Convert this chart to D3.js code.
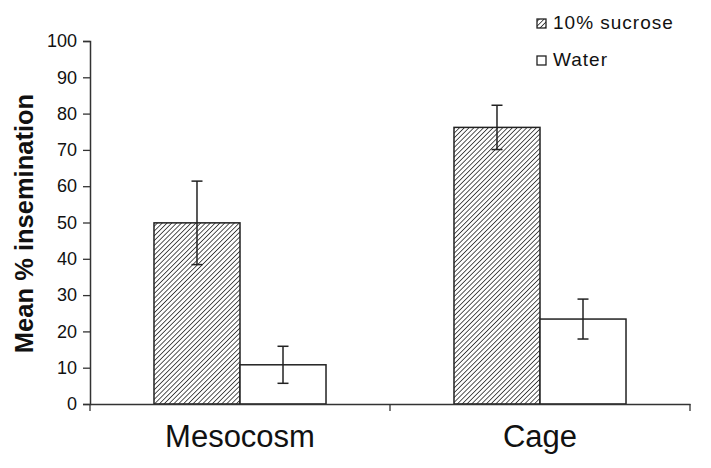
<!DOCTYPE html>
<html><head><meta charset="utf-8">
<script src="https://cdn.jsdelivr.net/npm/d3@7"></script>
<style>
body{margin:0;background:#fff;}
text{font-family:Arial,"Liberation Sans",sans-serif;fill:#111;}
</style></head>
<body>
<svg id="chart" width="711" height="468"></svg>
<script>
const categories = ["Mesocosm", "Cage"];
const seriesNames = ["10% sucrose", "Water"];
const sucroseMean = [49.9, 76.2];
const sucroseErr = [11.5, 6.1];
const waterMean = [10.8, 23.4];
const waterErr = [5.1, 5.5];
const yTicks = [0,10,20,30,40,50,60,70,80,90,100];

const svg = d3.select("#chart");
const defs = svg.append("defs");
const pat = defs.append("pattern").attr("id","hatch").attr("patternUnits","userSpaceOnUse")
  .attr("width",3.4).attr("height",3.4).attr("patternTransform","rotate(45)");
pat.append("rect").attr("width",3.4).attr("height",3.4).attr("fill","#fff");
pat.append("line").attr("x1",0).attr("y1",0).attr("x2",0).attr("y2",3.4)
  .attr("stroke","#2a2a2a").attr("stroke-width",1.6);

const x0 = 90, x1 = 690, yTop = 41, yBot = 404;
const x = d3.scaleBand().domain(categories).range([x0,x1]).paddingInner(0).paddingOuter(0);
const xs = d3.scaleBand().domain(seriesNames).range([0,x.bandwidth()]).paddingInner(0).paddingOuter(0.744);
const y = d3.scaleLinear().domain([0,100]).range([yBot,yTop]);

const data = [];
categories.forEach((c,i)=>{
  data.push({cat:c, s:seriesNames[0], v:sucroseMean[i], e:sucroseErr[i]});
  data.push({cat:c, s:seriesNames[1], v:waterMean[i], e:waterErr[i]});
});

// bars
svg.append("g").selectAll("rect").data(data).join("rect")
  .attr("x", d=>x(d.cat)+xs(d.s))
  .attr("y", d=>y(d.v))
  .attr("width", xs.bandwidth())
  .attr("height", d=>y(0)-y(d.v))
  .attr("fill", d=>d.s===seriesNames[0]?"url(#hatch)":"#fff")
  .attr("stroke","#222").attr("stroke-width",1.5);

// error bars
const eg = svg.append("g").attr("stroke","#222").attr("stroke-width",1.5);
data.forEach(d=>{
  const cx = x(d.cat)+xs(d.s)+xs.bandwidth()/2;
  eg.append("line").attr("x1",cx).attr("x2",cx).attr("y1",y(d.v+d.e)).attr("y2",y(d.v-d.e));
  eg.append("line").attr("x1",cx-5.5).attr("x2",cx+5.5).attr("y1",y(d.v+d.e)).attr("y2",y(d.v+d.e));
  eg.append("line").attr("x1",cx-5.5).attr("x2",cx+5.5).attr("y1",y(d.v-d.e)).attr("y2",y(d.v-d.e));
});

// y axis
const ya = svg.append("g").attr("transform",`translate(${x0},0)`)
  .call(d3.axisLeft(y).tickValues(yTicks).tickSize(7).tickPadding(6));
ya.select(".domain").attr("stroke","#333").attr("stroke-width",1.5);
ya.selectAll(".tick line").attr("stroke","#333").attr("stroke-width",1.3);
ya.selectAll(".tick text").attr("font-size",18).attr("fill","#111")
  .attr("font-family","Arial,'Liberation Sans',sans-serif");

// x axis
const xa = svg.append("g").attr("transform",`translate(0,${yBot})`)
  .call(d3.axisBottom(x).tickSize(0).tickPadding(21));
xa.select(".domain").attr("stroke","#333").attr("stroke-width",1.5);
xa.selectAll(".tick text").attr("font-size",31).attr("fill","#111")
  .attr("font-family","Arial,'Liberation Sans',sans-serif");
// boundary ticks
const bounds = [x0, x0 + x.step(), x1];
svg.append("g").selectAll("line").data(bounds).join("line")
  .attr("x1",d=>d).attr("x2",d=>d).attr("y1",yBot).attr("y2",yBot+7)
  .attr("stroke","#333").attr("stroke-width",1.3);

// y title
svg.append("text").attr("transform",`translate(33,${(yTop+yBot)/2+1}) rotate(-90)`)
  .attr("text-anchor","middle").attr("font-weight","bold").attr("font-size",25.5)
  .text("Mean % insemination");

// legend
const lg = svg.append("g");
seriesNames.forEach((s,i)=>{
  const yy = 19 + i*37;
  lg.append("rect").attr("x",537).attr("y",yy).attr("width",9).attr("height",9)
    .attr("fill", i===0?"url(#hatch)":"#fff").attr("stroke","#222").attr("stroke-width",1.3);
  lg.append("text").attr("x",553).attr("y",yy+10).attr("font-size",19).attr("letter-spacing",1)
    .text(s);
});
</script>
</body></html>
